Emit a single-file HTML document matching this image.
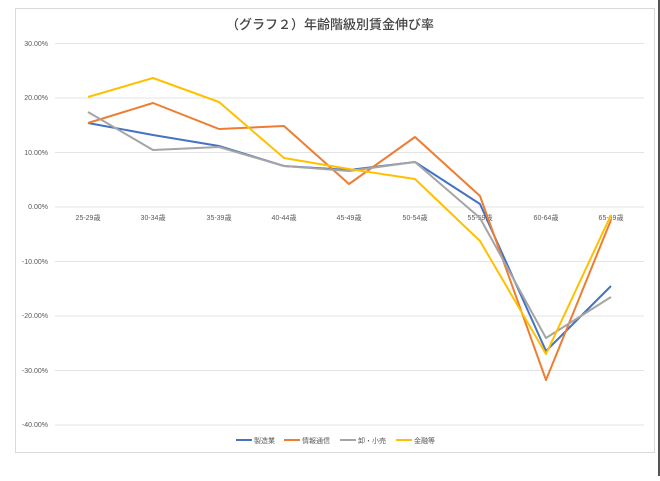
<!DOCTYPE html>
<html><head><meta charset="utf-8"><style>
body{margin:0;background:#fff;}
svg text{font-family:"Liberation Sans","Noto Sans CJK JP",sans-serif;}
</style></head><body>
<svg width="660" height="476" viewBox="0 0 660 476" xmlns="http://www.w3.org/2000/svg">
<rect x="0" y="0" width="660" height="476" fill="#fff"/>
<rect x="15.5" y="8.5" width="639" height="444" fill="#fff" stroke="#d9d9d9"/>
<line x1="659" y1="0" x2="659" y2="476" stroke="#555" stroke-width="2"/>
<text x="330" y="29" font-size="13" text-anchor="middle" fill="#444" font-weight="500">（グラフ２）年齢階級別賃金伸び率</text>
<g stroke="#e3e3e3" stroke-width="1">
<line x1="55" x2="644" y1="43.5" y2="43.5"/><line x1="55" x2="644" y1="98" y2="98"/>
<line x1="55" x2="644" y1="152.5" y2="152.5"/><line x1="55" x2="644" y1="207" y2="207"/>
<line x1="55" x2="644" y1="261.5" y2="261.5"/><line x1="55" x2="644" y1="316" y2="316"/>
<line x1="55" x2="644" y1="370.5" y2="370.5"/><line x1="55" x2="644" y1="425" y2="425"/>
</g>
<g font-size="7" fill="#595959" text-anchor="end">
<text x="48" y="46">30.00%</text><text x="48" y="100">20.00%</text><text x="48" y="155">10.00%</text>
<text x="48" y="209">0.00%</text><text x="48" y="264">-10.00%</text><text x="48" y="318">-20.00%</text>
<text x="48" y="373">-30.00%</text><text x="48" y="427">-40.00%</text>
</g>
<g font-size="7" fill="#595959" text-anchor="middle">
<text x="88" y="220">25-29歳</text><text x="153" y="220">30-34歳</text><text x="219" y="220">35-39歳</text>
<text x="284" y="220">40-44歳</text><text x="349" y="220">45-49歳</text><text x="415" y="220">50-54歳</text>
<text x="480" y="220">55-59歳</text><text x="546" y="220">60-64歳</text><text x="611" y="220">65-69歳</text>
</g>
<g fill="none" stroke-width="2" stroke-linejoin="round">
<polyline stroke="#4472c4" points="88,123 153,135 219,146 284,166 349,170 415,162 480,204 546,351 611,286"/>
<polyline stroke="#ed7d31" points="88,123 153,103 219,129 284,126 349,184 415,137 480,196 546,380 611,220"/>
<polyline stroke="#a5a5a5" points="88,112 153,150 219,147 284,166 349,171 415,162 480,218 546,338 611,297"/>
<polyline stroke="#ffc000" points="88,97 153,78 219,102 284,158 349,169 415,179 480,241 546,354 611,215"/>
</g>
<g font-size="7" fill="#595959">
<line x1="236" x2="252" y1="440" y2="440" stroke="#4472c4" stroke-width="2"/><text x="254" y="443">製造業</text>
<line x1="284" x2="300" y1="440" y2="440" stroke="#ed7d31" stroke-width="2"/><text x="302" y="443">情報通信</text>
<line x1="340" x2="356" y1="440" y2="440" stroke="#a5a5a5" stroke-width="2"/><text x="358" y="443">卸・小売</text>
<line x1="396" x2="412" y1="440" y2="440" stroke="#ffc000" stroke-width="2"/><text x="414" y="443">金融等</text>
</g>
</svg>
</body></html>
